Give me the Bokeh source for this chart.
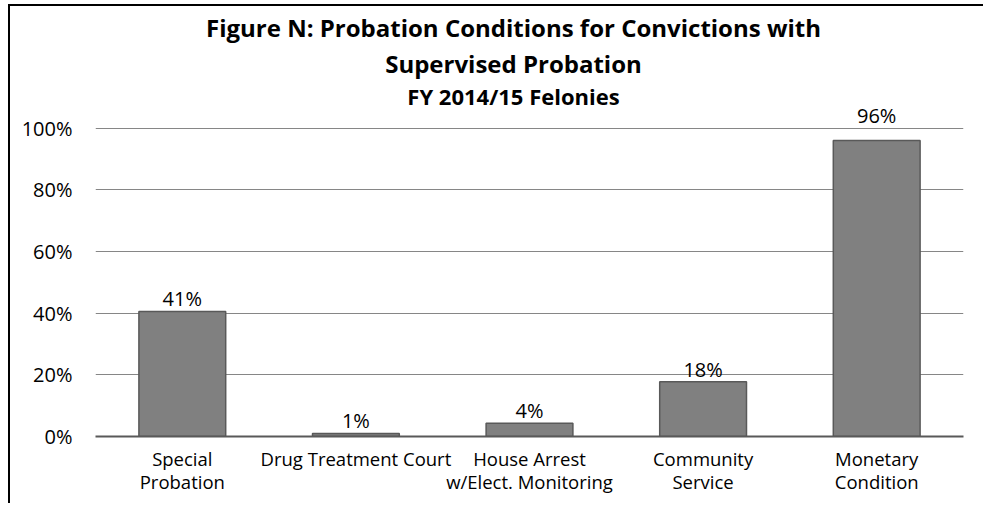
from bokeh.plotting import figure
from bokeh.models import ColumnDataSource, LabelSet, Label, NumeralTickFormatter, FixedTicker, Range1d
from bokeh.embed import file_html
from bokeh.resources import INLINE
from bokeh.core.properties import value

categories = ["Special\nProbation", "Drug Treatment Court", "House Arrest\nw/Elect. Monitoring",
              "Community\nService", "Monetary\nCondition"]
shares = [0.406, 0.01, 0.043, 0.178, 0.961]
y_ticks = [0, 0.2, 0.4, 0.6, 0.8, 1.0]
title_lines = ["Figure N: Probation Conditions for Convictions with",
               "Supervised Probation",
               "FY 2014/15 Felonies"]

share_labels = [f"{v:.0%}" for v in shares]
# labels of bars reaching the top gridline are lifted above it
label_offsets = [17 if v > 0.9 else 5 for v in shares]
src = ColumnDataSource(dict(cat=categories, share=shares, label=share_labels, off=label_offsets))

FONT = "Open Sans"

# frame spans the full height so the title and labels above 100% are not clipped
p = figure(x_range=categories, y_range=Range1d(0, 1.415), width=983, height=503,
           output_backend="svg", toolbar_location=None,
           min_border_left=95, min_border_right=20, min_border_top=0, min_border_bottom=67)
p.border_fill_color = None
p.background_fill_color = None
p.outline_line_color = None
p.styles = {
    "background": "linear-gradient(#000,#000) 8px 4px / 2px 100% no-repeat, "
                  "linear-gradient(#000,#000) 8px 4px / 100% 2px no-repeat, #ffffff",
}

p.vbar(x="cat", top="share", width=0.5, source=src,
       fill_color="#808080", line_color="#595959", line_width=1.5)

p.add_layout(LabelSet(x="cat", y="share", text="label", source=src,
                      text_align="center", text_baseline="alphabetic", y_offset="off",
                      text_font=value(FONT), text_font_size="20px", text_color="#000000"))

p.xgrid.grid_line_color = None
p.ygrid.ticker = FixedTicker(ticks=y_ticks)
p.ygrid.grid_line_color = "#868686"
p.ygrid.grid_line_width = 1

p.yaxis.ticker = FixedTicker(ticks=y_ticks)
p.yaxis.formatter = NumeralTickFormatter(format="0%")
p.yaxis.axis_line_color = None
p.yaxis.major_tick_line_color = None
p.yaxis.major_tick_out = 0
p.yaxis.major_tick_in = 0
p.yaxis.minor_tick_line_color = None
p.yaxis.major_label_standoff = 23
p.yaxis.major_label_text_font = FONT
p.yaxis.major_label_text_font_size = "20px"
p.yaxis.major_label_text_color = "#000000"

p.xaxis.axis_line_color = "#595959"
p.xaxis.axis_line_width = 2
p.xaxis.major_tick_line_color = None
p.xaxis.major_tick_out = 0
p.xaxis.major_tick_in = 0
p.xaxis.minor_tick_line_color = None
p.xaxis.major_label_standoff = 9
p.xaxis.major_label_text_font = FONT
p.xaxis.major_label_text_font_size = "18.5px"
p.xaxis.major_label_text_line_height = 0.95
p.xaxis.major_label_text_color = "#000000"
p.xaxis.major_label_orientation = "horizontal"

# title lines: centre x and middle y in screen pixels relative to the frame
title_y = [409, 373, 341]
title_sizes = ["24px", "24px", "22px"]
for txt, ty, ts in zip(title_lines, title_y, title_sizes):
    p.add_layout(Label(x=418, y=ty, x_units="screen", y_units="screen", text=txt,
                       text_align="center", text_baseline="middle",
                       text_font=FONT, text_font_size=ts, text_font_style="bold",
                       text_color="#000000"))

open("out.html", "w").write(file_html(p, INLINE))
